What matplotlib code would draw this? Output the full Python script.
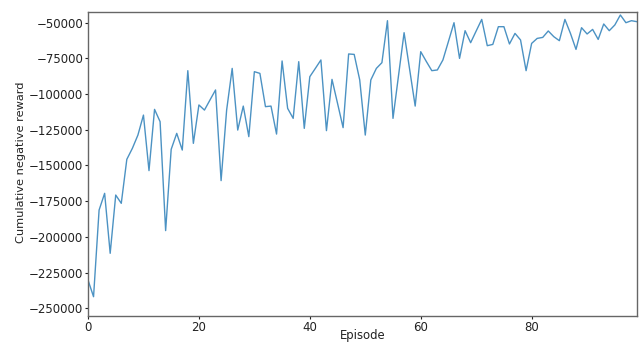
import matplotlib
matplotlib.use("Agg")
import matplotlib.pyplot as plt
import numpy as np

episodes = list(range(100))
rewards = [
    -230200, -241900, -181200, -169500, -211500, -170700, -176500, -145700, -138000, -128700,
    -114700, -153600, -110700, -119300, -195600, -138700, -127500, -139200, -83600, -134500,
    -107600, -111200, -104100, -97100, -160600, -111200, -82000, -125200, -108400, -129800,
    -84300, -85500, -108800, -108400, -128000, -76800, -110000, -117000, -77300, -124000,
    -87800, -82000, -76100, -125600, -89700, -106500, -123500, -71900, -72200, -90100,
    -128700, -90100, -82000, -78000, -48600, -117000, -86900, -57000, -82700, -108400,
    -70300, -77100, -83600, -83100, -76100, -63100, -50000, -75000, -55600, -64000,
    -55800, -47700, -66100, -65200, -52800, -52800, -64900, -57500, -62100, -83600,
    -64500, -61000, -60300, -55800, -59800, -62600, -47700, -57500, -68700, -53500,
    -57900, -54700, -61700, -50900, -55600, -51600, -44600, -50000, -48600, -49300,
]
xticks = [0, 20, 40, 60, 80]
yticks = [-50000, -75000, -100000, -125000, -150000, -175000, -200000, -225000, -250000]

fig = plt.figure(figsize=(6.43, 3.44), dpi=100)
ax = fig.add_axes([88/643, 1-315.7/344, (637-88)/643, (315.7-11.7)/344])
ax.plot(episodes, rewards, color="#1f77b4", lw=1.0, alpha=0.8)
ax.set_xlim(0, 99)
ax.set_ylim(-255200, -42300)
ax.set_xticks(xticks)
ax.set_yticks(yticks)
ax.tick_params(labelsize=8.5, colors="#222222", length=2, width=0.8, pad=1.5)
for s in ax.spines.values():
    s.set_color("#666666")
    s.set_linewidth(1.0)
ax.set_xlabel("Episode", fontsize=8.4, color="#222222")
ax.set_ylabel("Cumulative negative reward", fontsize=8.2, color="#222222")
ax.xaxis.set_label_coords(0.5, -0.045)
ax.yaxis.set_label_coords(-0.113, 0.505)
fig.savefig("out.png", dpi=100)
